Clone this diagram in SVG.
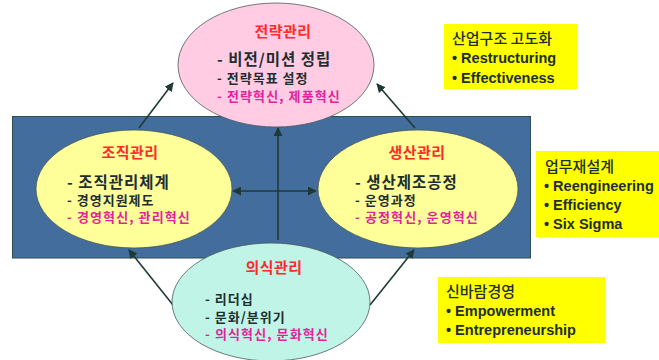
<svg xmlns="http://www.w3.org/2000/svg" width="659" height="360" viewBox="0 0 659 360">
<style>
text{font-family:"Noto Sans CJK KR","Liberation Sans",sans-serif;fill:#1e2e2e;}
.t{font-size:15px;font-weight:bold;fill:#ff2a2a;text-anchor:middle;letter-spacing:0.5px;}
.a{font-size:15.5px;font-weight:bold;letter-spacing:1px;}
.b{font-size:13px;font-weight:bold;letter-spacing:1px;}
.m{font-size:13px;font-weight:bold;fill:#e0249a;letter-spacing:1.1px;}
.k{font-size:15px;font-weight:500;}
.e{font-family:"Liberation Sans",Arial,sans-serif;font-size:14.5px;font-weight:bold;}
.el{stroke:#4a5a5a;stroke-width:0.8;}
.box{fill:#ffff00;}
.c{stroke:#1f3a36;stroke-width:1.6;fill:none;}
</style>
<defs>
<marker id="ah" viewBox="0 0 10 10" refX="9" refY="5" markerWidth="9" markerHeight="9" markerUnits="userSpaceOnUse" orient="auto-start-reverse">
<path d="M0,0 L10,5 L0,10 z" fill="#1f3a36"/>
</marker>
</defs>
<rect id="band" x="12.5" y="116.5" width="518" height="141.5" fill="#426d9c" stroke="#2f4f4f" stroke-width="1"/>
<g id="connectors">
<line class="c" x1="139" y1="128" x2="173" y2="83" marker-end="url(#ah)"/>
<line class="c" x1="415" y1="128" x2="377" y2="84" marker-end="url(#ah)"/>
<line class="c" x1="173" y1="305" x2="129" y2="250" marker-end="url(#ah)"/>
<line class="c" x1="370" y1="305" x2="414" y2="250" marker-end="url(#ah)"/>
<line class="c" x1="278" y1="240" x2="278" y2="128" marker-end="url(#ah)"/>
<line class="c" x1="233" y1="191" x2="316" y2="191" marker-start="url(#ah)" marker-end="url(#ah)"/>
</g>
<g id="strategy">
<ellipse class="el" cx="276" cy="65" rx="98" ry="62" fill="#ffcce4"/>
<text class="t" x="283" y="37">전략관리</text>
<text><tspan class="a" x="217" y="65">- 비전/미션 정립</tspan><tspan class="b" x="217" y="83">- 전략목표 설정</tspan><tspan class="m" x="217" y="101">- 전략혁신, 제품혁신</tspan></text>
</g>
<g id="organization">
<ellipse class="el" cx="134" cy="189" rx="98" ry="59" fill="#ffff99"/>
<text class="t" x="130" y="158">조직관리</text>
<text><tspan class="a" x="67" y="188">- 조직관리체계</tspan><tspan class="b" x="67" y="205">- 경영지원제도</tspan><tspan class="m" x="67" y="222">- 경영혁신, 관리혁신</tspan></text>
</g>
<g id="production">
<ellipse class="el" cx="418" cy="189" rx="100" ry="59" fill="#ffff99"/>
<text class="t" x="417" y="158">생산관리</text>
<text><tspan class="a" x="355" y="188">- 생산제조공정</tspan><tspan class="b" x="355" y="205">- 운영과정</tspan><tspan class="m" x="355" y="222">- 공정혁신, 운영혁신</tspan></text>
</g>
<g id="consciousness">
<ellipse class="el" cx="271" cy="302" rx="99" ry="59" fill="#c0f4e6"/>
<text class="t" x="274" y="273">의식관리</text>
<text><tspan class="b" x="205" y="304">- 리더십</tspan><tspan class="b" x="205" y="322">- 문화/분위기</tspan><tspan class="m" x="205" y="339">- 의식혁신, 문화혁신</tspan></text>
</g>
<g id="box1">
<rect class="box" x="444" y="24" width="133" height="65"/>
<text class="k" x="452" y="44">산업구조 고도화</text>
<text class="e"><tspan x="452" y="63">• Restructuring</tspan><tspan x="452" y="83">• Effectiveness</tspan></text>
</g>
<g id="box2">
<rect class="box" x="536" y="151" width="123" height="86"/>
<text class="k" x="545" y="172">업무재설계</text>
<text class="e"><tspan x="544" y="191">• Reengineering</tspan><tspan x="544" y="210">• Efficiency</tspan><tspan x="544" y="229">• Six Sigma</tspan></text>
</g>
<g id="box3">
<rect class="box" x="438" y="277" width="167" height="66"/>
<text class="k" x="446" y="297">신바람경영</text>
<text class="e"><tspan x="446" y="316">• Empowerment</tspan><tspan x="446" y="335">• Entrepreneurship</tspan></text>
</g>
</svg>
